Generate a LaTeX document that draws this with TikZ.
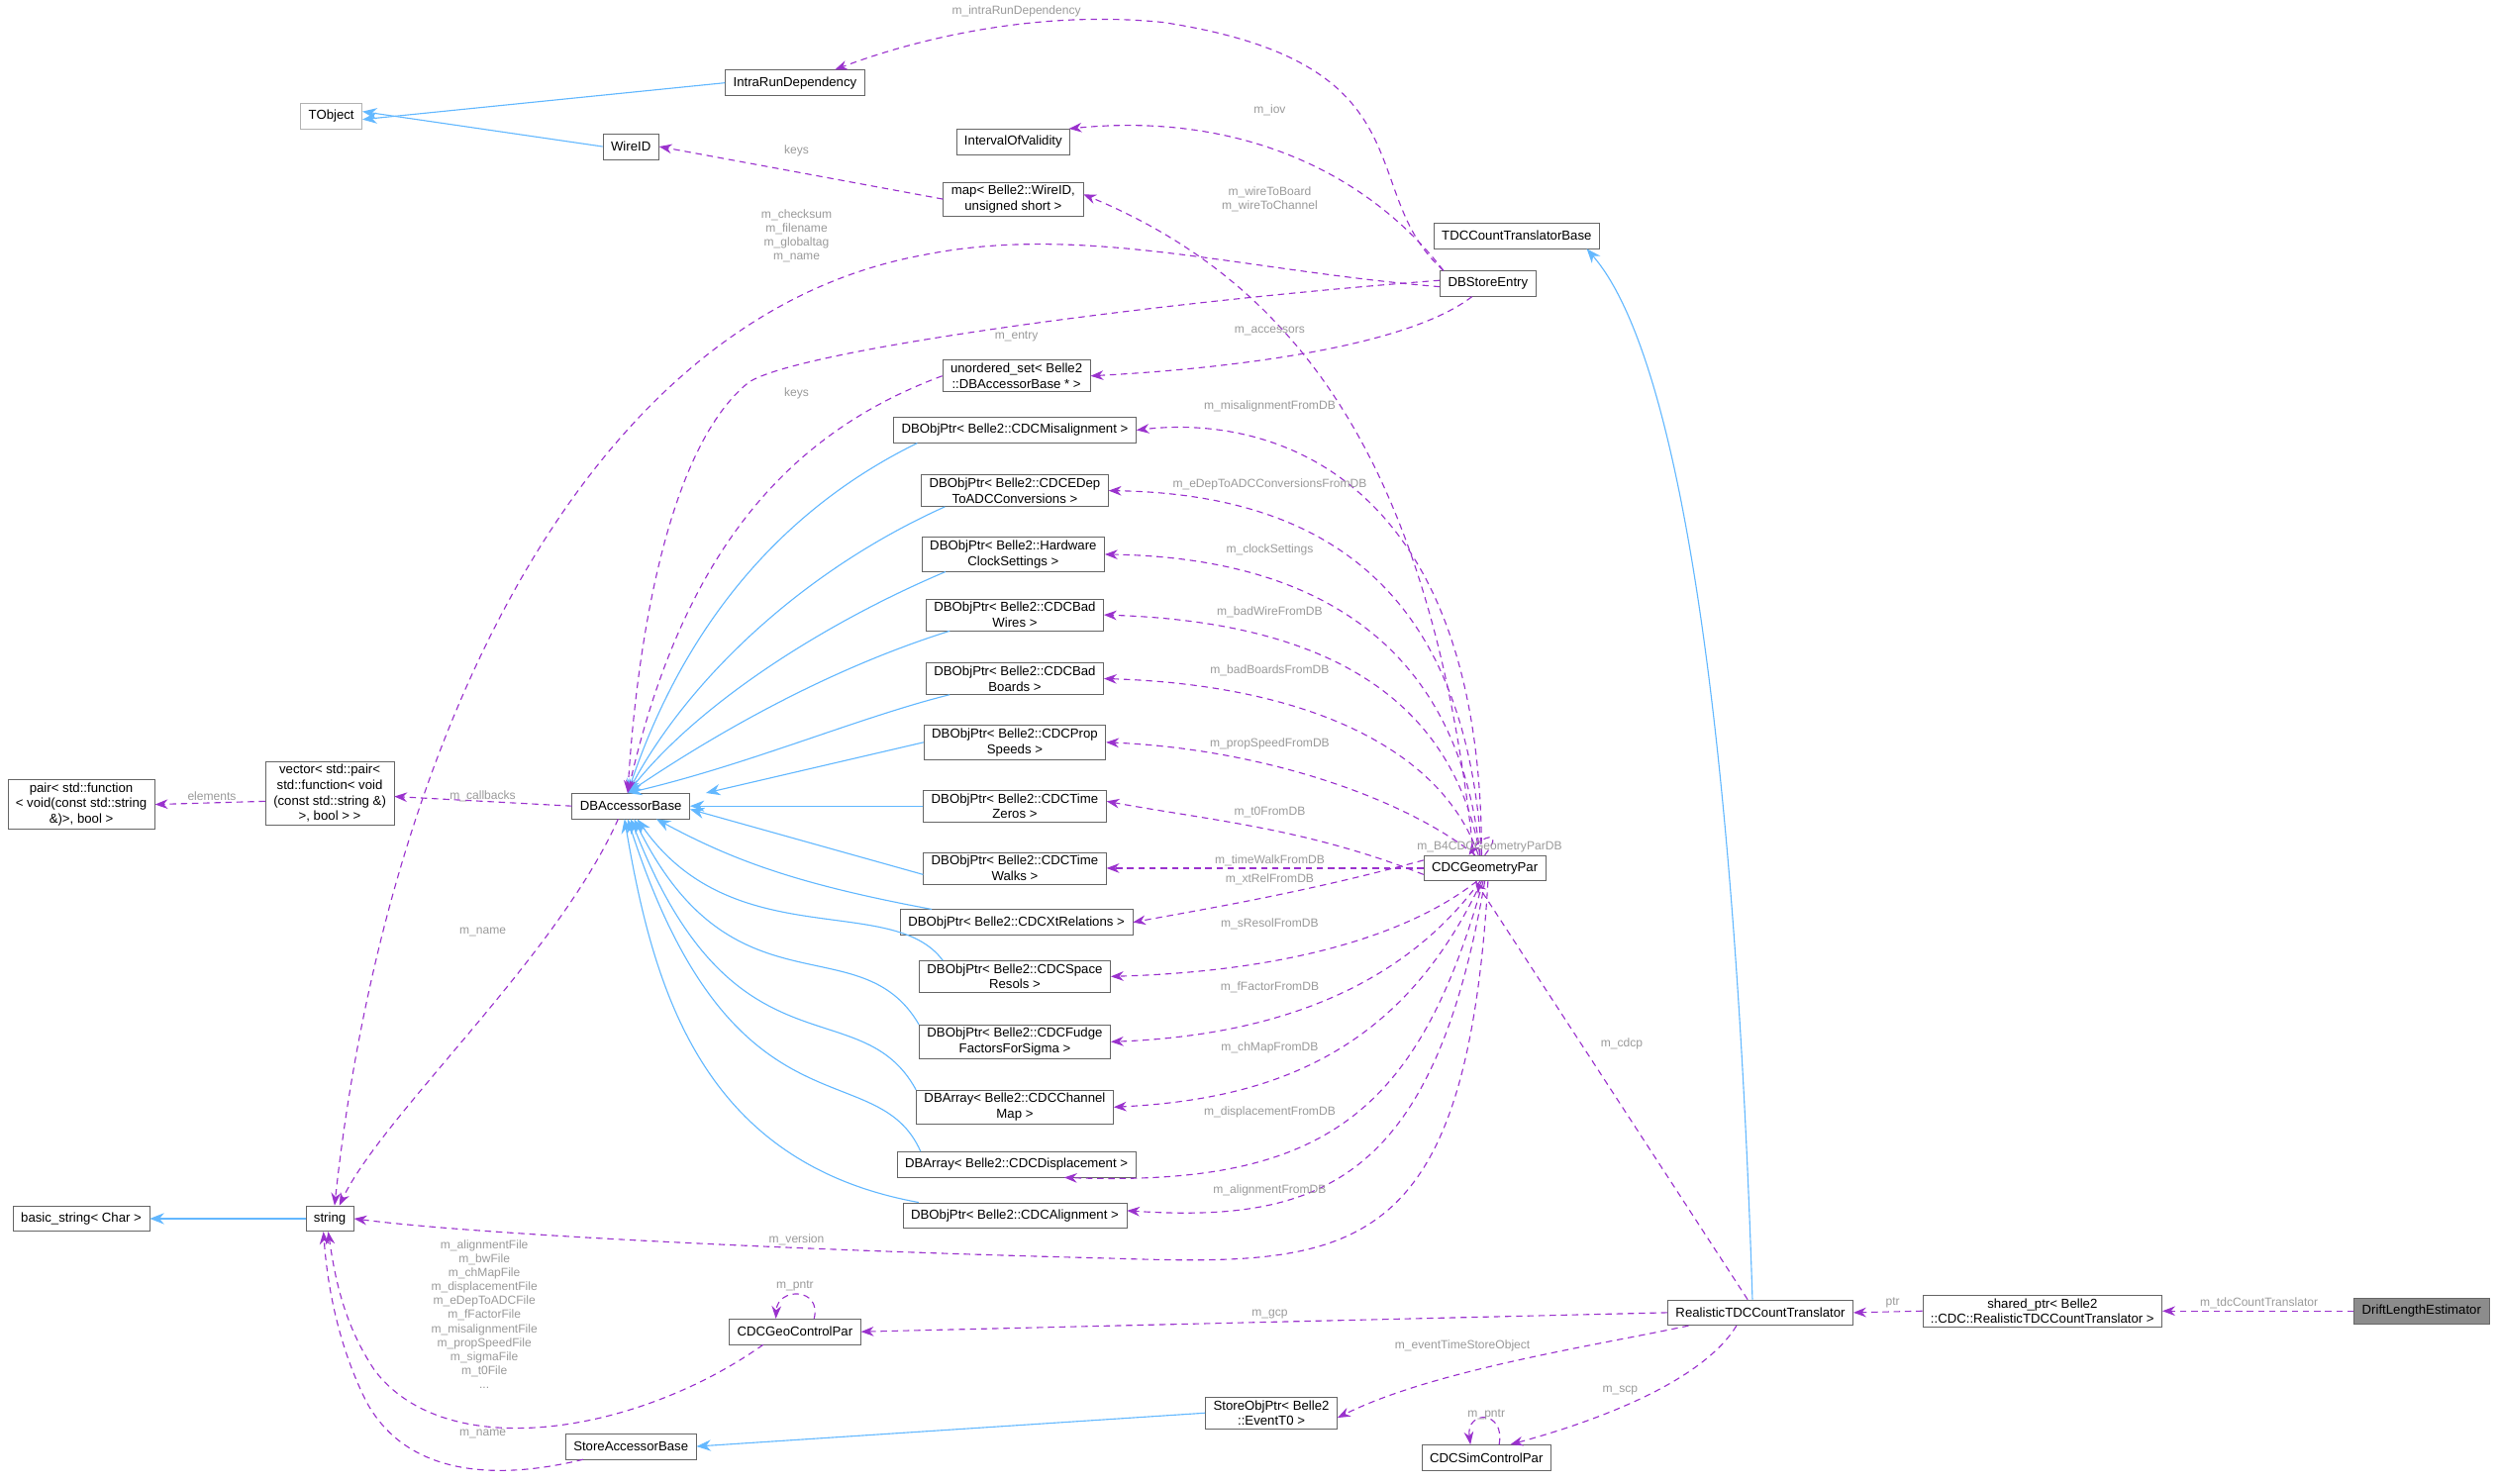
\documentclass[tikz,border=0pt]{standalone}
\usepackage{fontspec}
\setmainfont{Liberation Sans}
\usetikzlibrary{arrows.meta}
\definecolor{dep}{HTML}{9A32CD}
\definecolor{inh}{HTML}{63B8FF}
\definecolor{lbl}{HTML}{9A9A9A}
\begin{document}
\begin{tikzpicture}[x=1pt,y=-1pt,
 box/.style={draw=black!60,fill=white,inner xsep=5pt,inner ysep=2pt,minimum height=16pt,align=center,font=\fontsize{8.2}{9.8}\selectfont},
 lb/.style={text=lbl,font=\fontsize{7.5}{8.8}\selectfont,align=center,inner sep=1pt},
 dp/.style={draw=dep,dashed,dash pattern=on 4pt off 3pt,line width=0.7pt,-{Stealth[length=8pt,width=6pt]}},
 ih/.style={draw=inh,line width=0.7pt,-{Stealth[length=9pt,width=7pt]}}]
\useasboundingbox (0,0) rectangle (1568,931);
% nodes
\node[box,draw=black!30] (tobj) at (208,73) {TObject};
\node[box] (intra) at (499,52) {IntraRunDependency};
\node[box] (wire) at (396,92) {WireID};
\node[box] (iov) at (636,89) {IntervalOfValidity};
\node[box] (map) at (636,125) {map< Belle2::WireID,\\unsigned short >};
\node[box] (tdcb) at (952,148) {TDCCountTranslatorBase};
\node[box] (dbse) at (934,178) {DBStoreEntry};
\node[box] (uset) at (638,236) {unordered\_set< Belle2\\::DBAccessorBase * >};
\node[box] (mis) at (637,270) {DBObjPtr< Belle2::CDCMisalignment >};
\node[box] (edep) at (637,308) {DBObjPtr< Belle2::CDCEDep\\ToADCConversions >};
\node[box] (hw) at (636,348) {DBObjPtr< Belle2::Hardware\\ClockSettings >};
\node[box] (bw) at (637,386) {DBObjPtr< Belle2::CDCBad\\Wires >};
\node[box] (bb) at (637,426) {DBObjPtr< Belle2::CDCBad\\Boards >};
\node[box] (ps) at (637,466) {DBObjPtr< Belle2::CDCProp\\Speeds >};
\node[box] (tz) at (637,506) {DBObjPtr< Belle2::CDCTime\\Zeros >};
\node[box] (tw) at (637,545) {DBObjPtr< Belle2::CDCTime\\Walks >};
\node[box] (xt) at (638,579) {DBObjPtr< Belle2::CDCXtRelations >};
\node[box] (sr) at (637,613) {DBObjPtr< Belle2::CDCSpace\\Resols >};
\node[box] (ff) at (637,654) {DBObjPtr< Belle2::CDCFudge\\FactorsForSigma >};
\node[box] (cm) at (637,695) {DBArray< Belle2::CDCChannel\\Map >};
\node[box] (dis) at (638,731) {DBArray< Belle2::CDCDisplacement >};
\node[box] (al) at (637,763) {DBObjPtr< Belle2::CDCAlignment >};
\node[box] (dba) at (396,506) {DBAccessorBase};
\node[box] (vec) at (207,498) {vector< std::pair<\\std::function< void\\(const std::string \&)\\>, bool > >};
\node[box] (pair) at (51,505) {pair< std::function\\< void(const std::string\\\&)>, bool >};
\node[box] (str) at (207,765) {string};
\node[box] (bstr) at (51,765) {basic\_string< Char >};
\node[box] (gcp) at (499,836) {CDCGeoControlPar};
\node[box] (sab) at (396,908) {StoreAccessorBase};
\node[box] (sop) at (798,887) {StoreObjPtr< Belle2\\::EventT0 >};
\node[box] (geo) at (932,545) {CDCGeometryPar};
\node[box] (rtdc) at (1105,824) {RealisticTDCCountTranslator};
\node[box] (shp) at (1282,823) {shared\_ptr< Belle2\\::CDC::RealisticTDCCountTranslator >};
\node[box,fill=black!45] (dle) at (1520,823) {DriftLengthEstimator};
\node[box] (scp) at (933,915) {CDCSimControlPar};
% inheritance
\draw[ih] (intra.west) -- ([yshift=-2]tobj.east);
\draw[ih] (wire.west) -- ([yshift=3]tobj.east);
\draw[ih] (str.west) -- (bstr.east);
\draw[ih] (sop.west) -- (sab.east);
\draw[ih] ([xshift=-5]rtdc.north) .. controls (1090,500) and (1060,230) .. ([xshift=44]tdcb.south);
\foreach \n/\c in {mis/{(470,330) and (420,420)},edep/{(500,360) and (430,430)},hw/{(520,390) and (440,440)},bw/{(520,420) and (450,460)},bb/{(540,450) and (470,480)}}{
 \draw[ih] ([xshift=15]\n.south west) .. controls \c .. ([xshift=-2]dba.north);}
\draw[ih] (ps.west) -- ([xshift=10]dba.north east);
\draw[ih] (tz.west) -- (dba.east);
\draw[ih] ([yshift=-4]tw.west) -- ([yshift=-2]dba.east);
\draw[ih] ([xshift=20]xt.north west) .. controls (500,555) and (460,540) .. ([xshift=16]dba.south);
\draw[ih] ([xshift=15]sr.north west) .. controls (560,560) and (460,600) .. ([xshift=4]dba.south);
\draw[ih] ([xshift=0]ff.north west) .. controls (540,580) and (460,640) .. ([xshift=2]dba.south);
\draw[ih] ([xshift=0]cm.north west) .. controls (540,620) and (460,680) .. ([xshift=0]dba.south);
\draw[ih] ([xshift=15]dis.north west) .. controls (550,660) and (460,720) .. ([xshift=-2]dba.south);
\draw[ih] ([xshift=10]al.north west) .. controls (440,730) and (410,620) .. ([xshift=-4]dba.south);
% dependencies
\draw[dp] ([xshift=-28]dbse.north) .. controls (850,120) and (900,40) .. (730,14) .. controls (640,5) and (560,30) .. ([xshift=25]intra.north);
\node[lb] (l1) at (638,7) {m\_intraRunDependency};
\draw[dp] ([xshift=-28]dbse.north) .. controls (860,110) and (780,70) .. ([xshift=35]iov.north);
\node[lb] (l2) at (797,69) {m\_iov};
\draw[dp] ([xshift=-7]geo.north) .. controls (900,300) and (820,180) .. ([yshift=3]map.east);
\node[lb] (l3) at (797,125) {m\_wireToBoard\\m\_wireToChannel};
\draw[dp] (map.west) -- (wire.east);
\node[lb] (l4) at (500,95) {keys};
\draw[dp] ([yshift=-2]dbse.west) .. controls (780,170) and (680,140) .. (580,160) .. controls (360,200) and (240,480) .. ([xshift=3]str.north);
\node[lb] (l5) at (500,148) {m\_checksum\\m\_filename\\m\_globaltag\\m\_name};
\draw[dp] ([yshift=2]dbse.west) .. controls (720,190) and (500,220) .. (470,240) .. controls (420,280) and (400,400) .. ([xshift=-2]dba.north);
\node[lb] (l6) at (638,211) {m\_entry};
\draw[dp] ([xshift=-10]dbse.south) .. controls (880,220) and (760,232) .. (uset.east);
\node[lb] (l7) at (797,208) {m\_accessors};
\draw[dp] (uset.west) .. controls (500,270) and (430,340) .. ([xshift=-2]dba.north);
\node[lb] (l8) at (500,247) {keys};
% geo -> dbobjptr
\foreach \t/\o/\c in {mis/-2/{(930,300) and (800,260)},edep/-2/{(920,360) and (820,310)},hw/-3/{(915,400) and (820,350)},bw/-3/{(910,430) and (820,390)},bb/-4/{(905,470) and (820,430)},ps/-6/{(880,500) and (790,470)}}{
 \draw[dp] ([xshift=\o]geo.north) .. controls \c .. (\t.east);}
\draw[dp] ([yshift=-4]geo.west) .. controls (820,520) and (760,515) .. ([yshift=3]tz.east);
\draw[dp] (geo.west) -- (tw.east);
\draw[dp] ([yshift=5]geo.west) .. controls (820,560) and (760,570) .. (xt.east);
\draw[dp] ([xshift=-5]geo.south) .. controls (880,590) and (800,610) .. (sr.east);
\draw[dp] ([xshift=-3]geo.south) .. controls (880,620) and (800,650) .. (ff.east);
\draw[dp] ([xshift=-2]geo.south) .. controls (880,660) and (800,690) .. (cm.east);
\draw[dp] ([xshift=-1]geo.south) .. controls (890,700) and (830,745) .. ([xshift=30]dis.south);
\draw[dp] ([xshift=0]geo.south) .. controls (900,740) and (830,768) .. ([yshift=3]al.east);
\draw[dp] ([xshift=2]geo.south) .. controls (920,790) and (850,795) .. (700,790) .. controls (500,785) and (300,775) .. (str.east);
\foreach \x/\y/\s in {797/255/m\_misalignmentFromDB,797/304/m\_eDepToADCConversionsFromDB,797/345/m\_clockSettings,797/384/m\_badWireFromDB,797/421/m\_badBoardsFromDB,797/467/m\_propSpeedFromDB,797/510/m\_t0FromDB,797/540/m\_timeWalkFromDB,797/552/m\_xtRelFromDB,797/580/m\_sResolFromDB,797/620/m\_fFactorFromDB,797/658/m\_chMapFromDB,797/698/m\_displacementFromDB,797/747/m\_alignmentFromDB,500/778/m\_version}
 {\node[lb] at (\x,\y) {\s};}
\draw[dp] ([xshift=0]geo.north) .. controls (945,520) and (930,525) .. ([xshift=-10]geo.north);
\node[lb] (l9) at (935,532) {m\_B4CDCGeometryParDB};
% rtdc
\draw[dp] ([xshift=-8]rtdc.north) -- ([xshift=-6]geo.south);
\node[lb] (l10) at (1018,655) {m\_cdcp};
\draw[dp] (rtdc.west) -- (gcp.east);
\node[lb] (l11) at (797,825) {m\_gcp};
\draw[dp] ([xshift=-45]rtdc.south) .. controls (1000,845) and (900,860) .. ([yshift=-3]sop.east);
\node[lb] (l12) at (918,845) {m\_eventTimeStoreObject};
\draw[dp] ([xshift=-15]rtdc.south) .. controls (1070,865) and (1010,890) .. ([xshift=15]scp.north);
\node[lb] (l13) at (1017,873) {m\_scp};
\draw[dp] (shp.west) -- (rtdc.east);
\node[lb] (l14) at (1188,818) {ptr};
\draw[dp] (dle.west) -- (shp.east);
\node[lb] (l15) at (1418,818) {m\_tdcCountTranslator};
\draw[dp] ([xshift=12]gcp.north) .. controls (516,808) and (488,808) .. ([xshift=-12]gcp.north);
\node[lb] (l16) at (499,807) {m\_pntr};
\draw[dp] ([xshift=8]scp.north) .. controls (945,885) and (920,885) .. ([xshift=-10]scp.north);
\node[lb] (l17) at (933,888) {m\_pntr};
\draw[dp] ([xshift=-20]gcp.south) .. controls (400,900) and (280,920) .. (235,860) .. controls (215,830) and (210,800) .. ([xshift=-1]str.south);
\node[lb] (l18) at (304,825) {m\_alignmentFile\\m\_bwFile\\m\_chMapFile\\m\_displacementFile\\m\_eDepToADCFile\\m\_fFactorFile\\m\_misalignmentFile\\m\_propSpeedFile\\m\_sigmaFile\\m\_t0File\\...};
\draw[dp] ([xshift=-30]sab.south) .. controls (330,925) and (260,935) .. (230,880) .. controls (210,840) and (205,800) .. ([xshift=-4]str.south);
\node[lb] (l19) at (303,900) {m\_name};
\draw[dp] ([xshift=-8]dba.south) .. controls (350,600) and (240,700) .. ([xshift=6]str.north);
\node[lb] (l20) at (303,585) {m\_name};
\draw[dp] (dba.west) -- ([yshift=-2]vec.east);
\node[lb] (l21) at (303,500) {m\_callbacks};
\draw[dp] ([yshift=-5]vec.west) -- (pair.east);
\node[lb] (l22) at (133,500) {elements};
\end{tikzpicture}
\end{document}
